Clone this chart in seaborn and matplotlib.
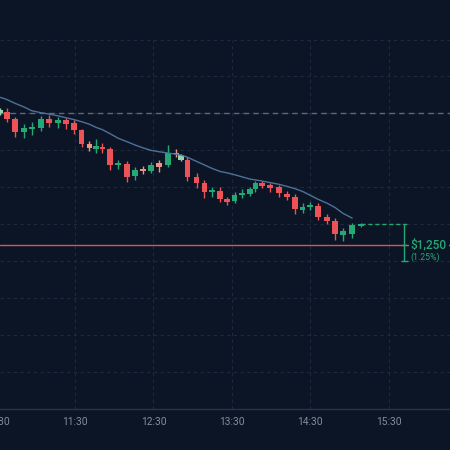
import pandas as pd
import matplotlib
matplotlib.use("Agg")
import matplotlib.pyplot as plt
import matplotlib.dates as mdates
import seaborn as sns

# candle data
times = ["10:33", "10:38", "10:44", "10:51", "10:57", "11:04", "11:10", "11:17", "11:23", "11:29",
         "11:35", "11:41", "11:46", "11:51", "11:57", "12:03", "12:10", "12:16", "12:22", "12:28",
         "12:34", "12:41", "12:47", "12:51", "12:56", "13:03", "13:09", "13:15", "13:21", "13:26",
         "13:32", "13:38", "13:44", "13:48", "13:53", "13:59", "14:06", "14:12", "14:18", "14:24",
         "14:30", "14:36", "14:43", "14:49", "14:55", "15:02", "15:09"]
opens = [103750, 103795, 103545, 103120, 103235, 103255, 103570, 103435, 103535, 103420,
         103175, 102725, 102555, 102610, 102535, 101985, 102025, 101620, 101850, 101800,
         102050, 102015, 102420, 102185, 102160, 101600, 101395, 101070, 101125, 100835,
         100785, 100980, 101005, 101170, 101375, 101320, 101240, 101015, 100920, 100475,
         100585, 100610, 100245, 100110, 99630, 99650, 99930]
highs = [103920, 103920, 103615, 103380, 103455, 103650, 103680, 103625, 103590, 103535,
         103235, 102805, 102895, 102760, 102610, 102185, 102140, 101935, 101960, 102085,
         102160, 102670, 102535, 102365, 102275, 101735, 101485, 101260, 101240, 100900,
         101090, 101170, 101260, 101465, 101465, 101395, 101320, 101125, 101015, 100700,
         100755, 100700, 100340, 100195, 99855, 100045, 100045]
lows = [103680, 103445, 102940, 102915, 103030, 103150, 103285, 103255, 103235, 103040,
        102610, 102475, 102390, 102390, 101825, 101850, 101430, 101485, 101680, 101715,
        101765, 101915, 102275, 102140, 101465, 101205, 100890, 100920, 100755, 100640,
        100700, 100870, 100945, 101090, 101205, 101090, 100920, 100810, 100330, 100360,
        100475, 100135, 100000, 99460, 99425, 99515, 99890]
closes = [103850, 103570, 103110, 103265, 103300, 103570, 103435, 103535, 103400, 103175,
          102695, 102590, 102635, 102535, 102015, 102050, 101600, 101825, 101790, 101995,
          101935, 102410, 102355, 102330, 101600, 101375, 101070, 101150, 100835, 100755,
          100980, 101055, 101170, 101375, 101285, 101225, 101035, 100920, 100495, 100585,
          100630, 100245, 100100, 99650, 99765, 99965, 100000]
ma = [104290, 104215, 104090, 103965, 103835, 103770, 103725, 103665, 103600, 103540,
      103465, 103380, 103275, 103195, 103055, 102905, 102785, 102675, 102580, 102495,
      102450, 102405, 102365, 102340, 102260, 102120, 102000, 101880, 101780, 101735,
      101670, 101595, 101520, 101495, 101455, 101405, 101345, 101275, 101200, 101105,
      100970, 100835, 100700, 100555, 100360, 100200, None]
faded = [0, 11, 18, 20, 22, 23]   # paler candles
edge_labels = ["10:30"]           # hour label just left of the view

ref_level = 103750     # grey dashed level
stop_level = 99275     # red level
move = 1250            # bracket size
day = "2024-01-02 "

BG = "#0c1525"
GRID = "#1e2a3c"
UP = "#26a874"
DOWN = "#ec5256"
UP_PALE = "#93d3ad"
DOWN_PALE = "#ee937e"
MA_COL = "#4e7199"
TICK_COL = "#848d9c"

sns.set_theme(style="dark", rc={"axes.facecolor": BG, "figure.facecolor": BG})
plt.rcParams["font.family"] = ["Roboto", "DejaVu Sans"]

df = pd.DataFrame({"time": pd.to_datetime(day + pd.Series(times)),
                   "open": opens, "high": highs, "low": lows, "close": closes,
                   "ma": pd.to_numeric(pd.Series(ma), errors="coerce")})
up = df["close"] >= df["open"]
colors = [UP if u else DOWN for u in up]
for i in faded:
    colors[i] = UP_PALE if up[i] else DOWN_PALE

fig = plt.figure(figsize=(4.5, 4.5), dpi=100)
ax = fig.add_axes([0, 0.0922, 1, 0.82])

w = pd.Timedelta(minutes=4.4)
ax.vlines(df["time"], df["low"], df["high"], colors=colors, lw=1, zorder=3)
body = (df["close"] - df["open"]).abs().clip(lower=25)
bottom = df[["open", "close"]].min(axis=1)
ax.bar(df["time"], body, bottom=bottom, width=w, color=colors, lw=0, zorder=4)

sns.lineplot(data=df, x="time", y="ma", color=MA_COL, lw=1, ax=ax, zorder=5)

# levels
ax.axhline(ref_level, color="#5d6878", lw=1, ls=(0, (4, 3)), zorder=2)
ax.axhline(stop_level, color="#d9545c", lw=1, zorder=2)

last_t = df["time"].iloc[-1]
last_c = df["close"].iloc[-1]
ax.hlines(last_c, last_t, last_t + pd.Timedelta(minutes=36), color=UP, lw=1, ls=(0, (3, 2)), zorder=3)

xb = last_t + pd.Timedelta(minutes=33)
cap = pd.Timedelta(minutes=3)
ax.vlines(xb, last_c - move, last_c, color=UP, lw=1, zorder=6)
ax.hlines(last_c - move, xb - cap, xb + cap, color=UP, lw=1, zorder=6)
ax.hlines(stop_level, xb - pd.Timedelta(minutes=2), xb + pd.Timedelta(minutes=2), color=UP, lw=1, zorder=6)

mid = last_c - move / 2
ax.annotate(f"${move:,.0f}", xy=(xb, mid), xytext=(4.5, -1.8), textcoords="offset points",
            color=UP, fontsize=8.5, fontweight="medium", va="center", ha="left", zorder=7,
            bbox=dict(boxstyle="square,pad=0.15", fc=BG, ec="none"))
ax.annotate(f"({move / last_c * 100:.2f}%)", xy=(xb, mid), xytext=(4.5, -10.6), textcoords="offset points",
            color=UP, fontsize=6.3, va="center", ha="left", zorder=7)

# axes styling
ax.set_xlim(pd.Timestamp(day + "10:32:38"), pd.Timestamp(day + "16:16:48"))
ax.set_ylim(93750, 106250)
ax.set_yticks(range(93750, 106251, 1250))
ax.xaxis.set_major_locator(mdates.MinuteLocator(byminute=30))
ax.xaxis.set_major_formatter(mdates.DateFormatter("%H:%M"))
ax.grid(True, color=GRID, lw=0.8, ls=(0, (3, 3)))
ax.tick_params(axis="x", length=0, pad=6, labelsize=7.4, labelcolor=TICK_COL)
ax.tick_params(axis="y", left=False, labelleft=False)
ax.set_xlabel("")
ax.set_ylabel("")
for lab in edge_labels:
    ax.annotate(lab, xy=(mdates.date2num(pd.Timestamp(day + lab)), 0),
                xycoords=("data", "axes fraction"), xytext=(0, -6), textcoords="offset points",
                ha="center", va="top", fontsize=7.4, color=TICK_COL, annotation_clip=False)
for s in ["top", "left", "right"]:
    ax.spines[s].set_visible(False)
ax.spines["bottom"].set_color("#2a3446")
ax.spines["bottom"].set_linewidth(1)

fig.savefig("out.png", dpi=100, facecolor=BG)
